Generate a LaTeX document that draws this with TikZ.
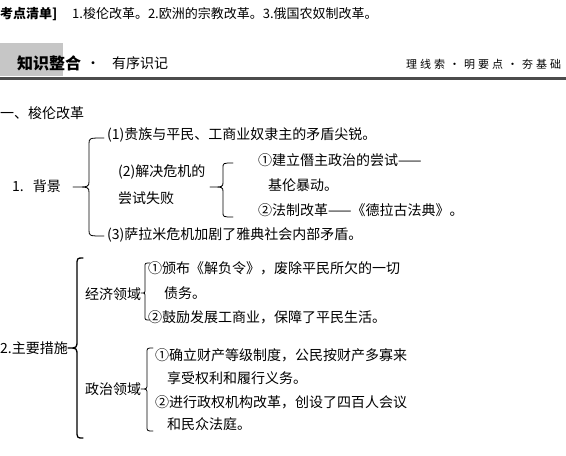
\documentclass[tikz,border=0pt]{standalone}
\usepackage{fontspec}
\setmainfont{Noto Sans CJK SC}
\usetikzlibrary{positioning}

\tikzset{
  txt/.style={anchor=west, inner sep=0pt, font=\fontsize{14}{16}\selectfont},
  small/.style={anchor=west, inner sep=0pt, font=\fontsize{13}{15}\selectfont},
  bracel/.style={line width=0.8pt, line join=round, line cap=round},
}
% arm x, spine x, tip x, top y, tip y, bottom y
\newcommand{\wbrace}[7][6]{%
  \draw[bracel] ({#2},{#5}) .. controls ({#3},{#5}) .. ({#3},{#5+#1})
    -- ({#3},{#6-#1}) .. controls ({#3},{#6}) .. ({#4},{#6})
    .. controls ({#3},{#6}) .. ({#3},{#6+#1})
    -- ({#3},{#7-#1}) .. controls ({#3},{#7}) .. ({#2},{#7});}

\begin{document}
\begin{tikzpicture}[x=1pt, y=-1pt]
\useasboundingbox (0,0) rectangle (566,456);

% top line
\node[small, font=\bfseries\fontsize{13}{15}\selectfont] (kd) at (0,14) {考点清单]};
\node[small] (kdlist) at (72,14) {1.梭伦改革。2.欧洲的宗教改革。3.俄国农奴制改革。};

% header band
\fill[gray!45] (0,43) rectangle (63,76);
\fill[black!70] (0,76.5) rectangle (566,80);
\node[anchor=west, inner sep=0pt, font=\bfseries\fontsize{16}{18}\selectfont] (zszh) at (17,63) {知识整合};
\node[txt] (yxsj) at (86,63) {·\hspace{12pt}有序识记};
\node[anchor=west, inner sep=0pt, font=\fontsize{11}{13}\selectfont] (lxs) at (406,64)
  {理\kern3pt 线\kern3pt 索\kern4pt ·\kern4pt 明\kern3pt 要\kern3pt 点\kern4pt ·\kern4pt 夯\kern3pt 基\kern3pt 础};

% 一、梭伦改革
\node[txt] (s1) at (0,113) {一、梭伦改革};
\node[txt] (bj) at (12,186) {1.\hspace{9pt}背景};
\wbrace{104}{89}{73}{138}{187}{236}
\node[txt] (b1) at (107,135) {(1)贵族与平民、工商业奴隶主的矛盾尖锐。};
\node[txt] (b2) at (118,172) {(2)解决危机的};
\node[txt, below=12pt of b2.south west, anchor=north west] (b2b) {尝试失败};
\wbrace[5]{233}{223}{210}{163}{187}{217}
\node[txt] (c1) at (258,160) {①建立僭主政治的尝试——};
\node[txt] (c1b) at (268,185) {基伦暴动。};
\node[txt] (c2) at (258,210) {②法制改革——《德拉古法典》。};
\node[txt] (b3) at (107,235) {(3)萨拉米危机加剧了雅典社会内部矛盾。};

% 2.主要措施
\node[txt] (cs) at (0,348) {2.主要措施};
\begin{scope}[bracel/.append style={line width=1.3pt}]
\wbrace[8]{83}{77}{68}{258}{348}{438}
\end{scope}
\node[txt] (jj) at (85,294) {经济领域};
\wbrace[4]{150}{145}{141}{263}{293}{320}
\node[txt] (j1) at (148,268) {①颁布《解负令》，废除平民所欠的一切};
\node[txt] (j1b) at (164,293) {债务。};
\node[txt] (j2) at (148,317) {②鼓励发展工商业，保障了平民生活。};
\node[txt] (zz) at (85,389) {政治领域};
\wbrace[5]{153}{147}{141}{348}{389}{431}
\node[txt] (z1) at (155,355) {①确立财产等级制度，公民按财产多寡来};
\node[txt] (z1b) at (167,378) {享受权利和履行义务。};
\node[txt] (z2) at (155,402) {②进行政权机构改革，创设了四百人会议};
\node[txt] (z2b) at (167,424) {和民众法庭。};
\end{tikzpicture}
\end{document}
